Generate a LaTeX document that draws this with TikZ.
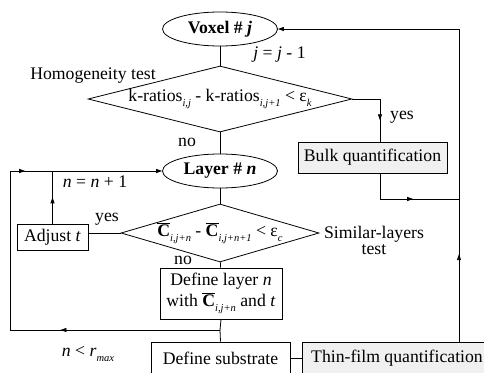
\documentclass[tikz,border=0pt]{standalone}
\usepackage{fontspec}
\setmainfont{Liberation Serif}
\usetikzlibrary{shapes.geometric,arrows.meta,decorations.markings}

% low italic subscripts as in the figure
\newcommand{\lsub}[1]{\raisebox{-0.6ex}{\fontsize{10.5}{10.5}\selectfont\itshape #1}}
\newcommand{\cbar}{$\overline{\textbf{C}}$}

\begin{document}
\begin{tikzpicture}[x=1pt, y=-1pt, line width=0.8pt,
  font=\fontsize{17.7}{21}\selectfont,
  every node/.style={inner sep=0pt},
  term/.style={ellipse, draw, minimum width=115pt, minimum height=34pt},
  test/.style={diamond, draw},
  box/.style={rectangle, draw, align=center},
  quant/.style={box, fill=gray!12},
  tip/.style={-{Triangle[length=6pt,width=4pt]}},
  midtip/.style={postaction={decorate}, decoration={markings,
    mark=at position #1 with {\arrow{Triangle[length=6pt,width=4pt]}}}}]
\useasboundingbox (0,0) rectangle (484,372);

% main column
\node[term] (voxel) at (220,29) {\textbf{Voxel \# \textit{j}}};
\node[test, minimum width=264pt, minimum height=66pt,
  label=center:{k-ratios\lsub{i,j} - k-ratios\lsub{i,j+1} < ε\lsub{k}}] (d1) at (220,99) {};
\node[term] (layer) at (220,171) {\textbf{Layer \# \textit{n}}};
\node[test, minimum width=198pt, minimum height=58pt,
  label=center:{\cbar\lsub{i,j+n} - \cbar\lsub{i,j+n+1} < ε\lsub{c}}] (d2) at (220,233) {};
\node[box, minimum width=122pt, minimum height=51pt] (deflayer) at (221,293.5)
  {Define layer \textit{n}\\with \cbar\lsub{i,j+n} and \textit{t}};
\node[box, minimum width=139pt, minimum height=32pt] (defsub) at (220.5,358) {Define substrate};

% side boxes
\node[quant, minimum width=149pt, minimum height=31pt] (bulk) at (372.5,157.5) {Bulk quantification};
\node[quant, minimum width=190pt, minimum height=32pt] (thin) at (397,358) {Thin-film quantification};
\node[box, minimum width=71pt, minimum height=26pt] (adjust) at (52.5,237) {Adjust \textit{t}};

% labels
\node (homog) at (93,76) {Homogeneity test};
\node (simil) at (374,240) [align=center, font=\fontsize{17.7}{16}\selectfont] {Similar-layers\\test};
\node (no1) at (187,142) {no};
\node (no2) at (183,260) {no};
\node (yes1) at (402,117) {yes};
\node (yes2) at (107,219) {yes};
\node[anchor=west] (jdec) at (253,55) {\textit{j} = \textit{j} - 1};
\node (ninc) at (95,182) {\textit{n} = \textit{n} + 1};
\node (nmax) at (88,354) {\textit{n} < \textit{r}\lsub{max}};

% corners
\coordinate (ya) at (380,99);
\coordinate (bk) at (380,199);
\coordinate (rt) at (459,29);
\coordinate (jn) at (220,330);
\coordinate (lb) at (10,330);
\coordinate (lt) at (10,171);

% connectors
\draw (voxel) -- (d1);
\draw (d1) -- (layer);
\draw (layer) -- (d2);
\draw (d2) -- (deflayer);
\draw (d1.east) -- (ya);
\draw[midtip=0.5] (ya) -- (ya |- bulk.north);
\draw (ya |- bulk.south) -- (bk);
\draw[midtip=0.42] (bk) -- (bk -| rt);
\draw[midtip=0.28] (thin.north -| rt) -- (rt);
\draw[tip] (rt) -- (voxel.east);
\draw (d2.west) -- (d2.west -| adjust.east);
\draw[midtip=0.5] (adjust.north) -- (adjust.north |- lt);
\draw (deflayer.south) -- (jn);
\draw[midtip=0.76] (jn) -- (lb);
\draw (lb) -- (lt);
\draw[tip, midtip=0.1] (lt) -- (layer.west);
\draw (jn) -- (defsub.north);
\draw (defsub.east) -- (thin.west);
\end{tikzpicture}
\end{document}
